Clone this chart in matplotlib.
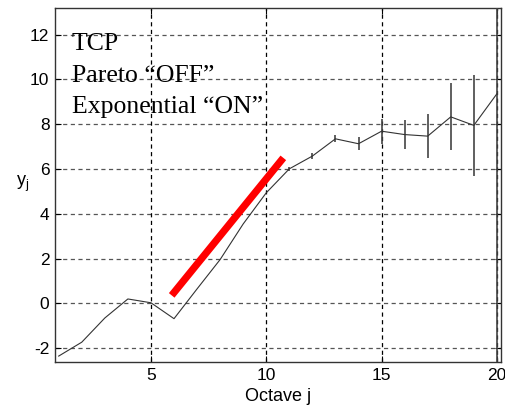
import matplotlib
matplotlib.use("Agg")
import matplotlib.pyplot as plt
import numpy as np

# Data
octaves = list(range(1, 21))
yj = [-2.35, -1.73, -0.65, 0.20, 0.03, -0.68, 0.65, 1.96, 3.55, 4.94,
      6.01, 6.58, 7.35, 7.13, 7.69, 7.54, 7.47, 8.33, 7.95, 9.36]
yerr = [0, 0, 0, 0, 0, 0, 0, 0, 0, 0,
        0.10, 0.12, 0.16, 0.30, 0.55, 0.63, 0.97, 1.49, 2.25, 12.0]
fit_x = [5.9, 10.74]
fit_y = [0.36, 6.5]
xticks = [5, 10, 15, 20]
yticks = [-2, 0, 2, 4, 6, 8, 10, 12]
annot = ["TCP", "Pareto \u201cOFF\u201d", "Exponential \u201cON\u201d"]

plt.rcParams['lines.scale_dashes'] = False
plt.rcParams['font.family'] = ['Liberation Sans', 'DejaVu Sans']

fig = plt.figure(figsize=(5.06, 4.11), dpi=100)
ax = fig.add_axes([0.1087, 0.12, 0.8824, 0.8605])

ax.errorbar(octaves, yerr=yerr, y=yj, fmt='none', ecolor='#444444',
            elinewidth=1.2, capsize=0, zorder=3)
ax.plot(octaves, yj, color='#333333', lw=0.8, zorder=4)
ax.plot(fit_x, fit_y, color='#ff0000', lw=5.2, solid_capstyle='butt', zorder=5)

ax.set_xlim(0.84, 20.2)
ax.set_ylim(-2.6, 13.19)
ax.set_xticks(xticks)
ax.set_yticks(yticks)
ax.set_yticklabels([str(v) for v in yticks])
ax.tick_params(direction='in', length=4, width=0.8, labelsize=12.5,
               top=True, right=True)
ax.tick_params(axis='x', pad=4.5)
ax.tick_params(axis='y', pad=4)

for v in yticks:
    ax.axhline(v, color='#555555', lw=0.9, ls=(0, (3, 2.5)), zorder=1)
for v in xticks:
    ax.axvline(v, color='black', lw=0.9, ls=(0, (3, 2.5)), zorder=1)

for s in ax.spines.values():
    s.set_linewidth(1.0)
    s.set_color('#333333')

ax.set_xlabel("Octave j", fontsize=13, labelpad=4)
ax.set_ylabel("y$_\\mathregular{j}$", fontsize=13, rotation=0)
ax.yaxis.set_label_coords(-0.073, 0.475)

for i, t in enumerate(annot):
    ax.text(0.037, 0.881 - i * 0.0895, t, transform=ax.transAxes,
            fontsize=18.5, family=['Liberation Serif', 'DejaVu Serif'],
            va='baseline', ha='left', zorder=6)

fig.savefig("out.png", dpi=100)
